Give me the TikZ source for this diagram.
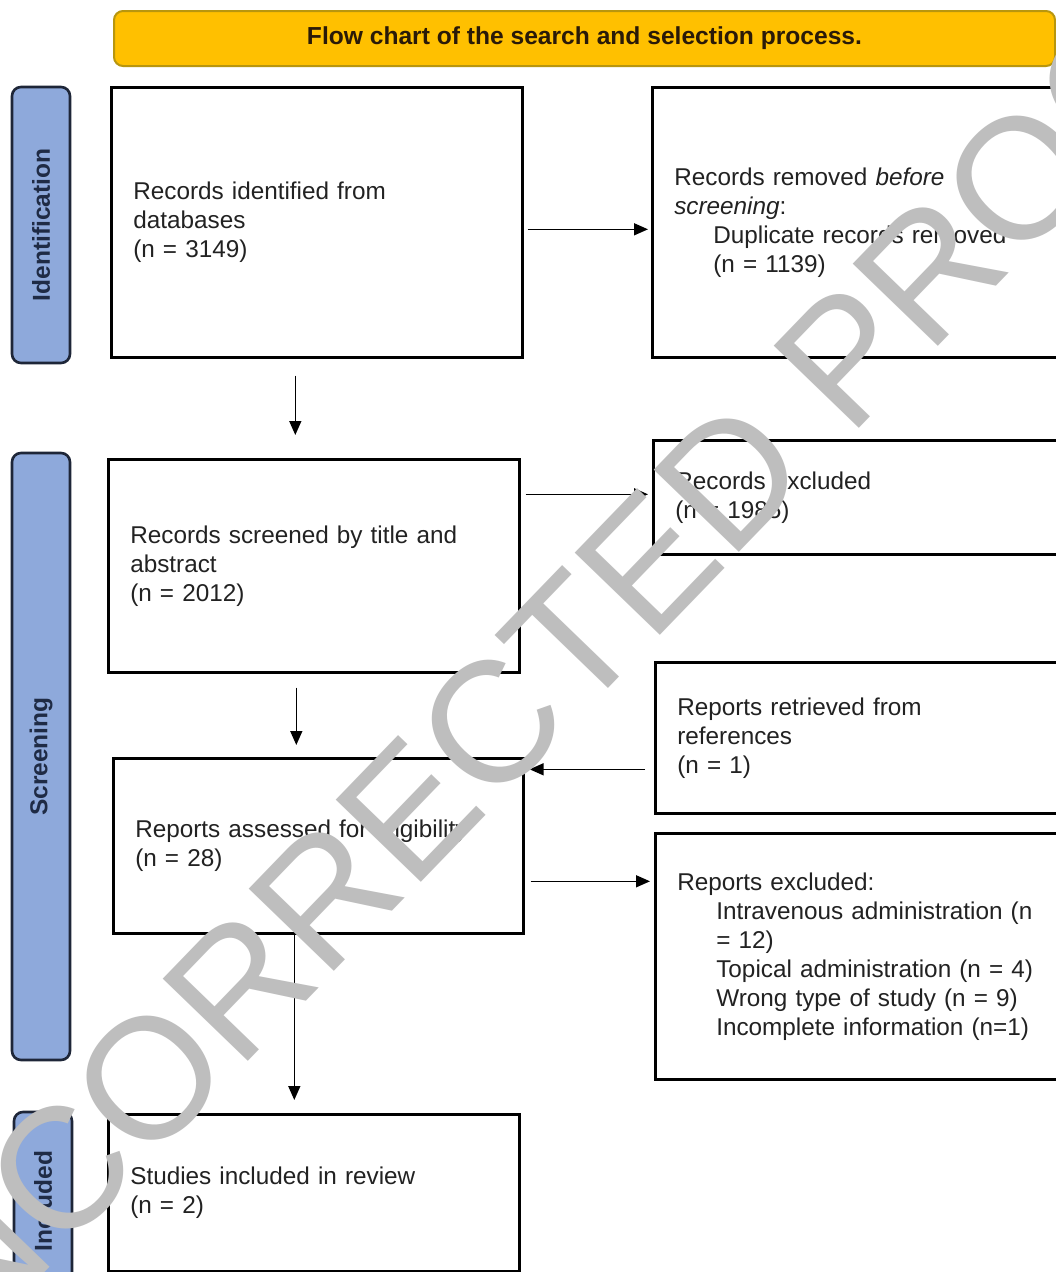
\documentclass[tikz,border=0pt]{standalone}
\usepackage{fontspec}
\setmainfont{Liberation Sans}
\newfontfamily\wmfont{Liberation Sans}
\usetikzlibrary{arrows.meta,calc}
\definecolor{banner}{HTML}{FFC000}
\definecolor{bannerline}{HTML}{B8960E}
\definecolor{sidefill}{HTML}{8EA9DB}
\definecolor{sideline}{HTML}{1E2638}
\definecolor{sidetext}{HTML}{1F2B45}
\definecolor{wmgray}{HTML}{BEBEBE}
\definecolor{txt}{HTML}{222222}
\definecolor{titletxt}{HTML}{2A1A08}
\begin{document}
\begin{tikzpicture}[x=1pt,y=-1pt,
 flowbox/.style={draw=black,line width=2.6pt,fill=white,anchor=north west,inner xsep=22pt,inner ysep=4pt,align=left,font=\fontsize{24.3}{29}\selectfont,text=txt},
 sidebox/.style={draw=sideline,line width=2.6pt,fill=sidefill,rounded corners=9pt,rotate=90,font=\bfseries\fontsize{24.5}{28}\selectfont,text=sidetext,inner sep=0pt},
 flowarr/.style={line width=1.5pt,-{Triangle[length=14pt,width=12pt]}},
 wmark/.style={text=wmgray,font=\wmfont\fontsize{172}{190}\selectfont,rotate=46,inner sep=0pt}]

\useasboundingbox (0,0) rectangle (1056,1272);
\fill[white] (0,0) rectangle (1056,1272);
\clip (0,0) rectangle (1056,1272);

% title banner
\node[draw=bannerline,fill=banner,line width=2pt,rounded corners=9pt,minimum width=941pt,minimum height=55pt,anchor=north west,font=\bfseries\fontsize{24.6}{28}\selectfont,text=titletxt] (title) at (113,10) {Flow chart of the search and selection process.};

% side labels
\node[sidebox,minimum width=276pt,minimum height=58pt] (sid) at (41,225) {Identification};
\node[sidebox,minimum width=607pt,minimum height=58pt] (sscr) at (41,756.5) {Screening};
\node[sidebox,minimum width=178pt,minimum height=58pt] (sinc) at (43,1201) {Included};

% boxes
\node[flowbox,text width=367pt,minimum height=270pt] (A) at (110,86) {Records identified from\\databases\\(n = 3149)};
\node[flowbox,text width=380pt,minimum height=270pt] (B) at (651,86) {Records removed \textit{before}\\\textit{screening}:\\\hspace*{39pt}Duplicate records removed\\\hspace*{39pt}(n = 1139)};
\node[flowbox,text width=367pt,minimum height=213pt] (C) at (107,458) {Records screened by title and\\abstract\\(n = 2012)};
\node[flowbox,text width=379pt,minimum height=114pt] (D) at (652,439) {Records excluded\\(n = 1985)};
\node[flowbox,text width=366pt,minimum height=175pt] (E) at (112,757) {Reports assessed for eligibility\\(n = 28)};
\node[flowbox,text width=377pt,minimum height=151pt] (F) at (654,661) {Reports retrieved from\\references\\(n = 1)};
\node[flowbox,text width=377pt,minimum height=246pt] (G) at (654,832) {Reports excluded:\\\hspace*{39pt}Intravenous administration (n\\\hspace*{39pt}= 12)\\\hspace*{39pt}Topical administration (n = 4)\\\hspace*{39pt}Wrong type of study (n = 9)\\\hspace*{39pt}Incomplete information (n=1)};
\node[flowbox,text width=367pt,minimum height=157pt] (H) at (107,1113) {Studies included in review\\(n = 2)};

% connectors
\draw[flowarr] ($(A.east)+(4,7)$) -- ($(B.west)+(-3,7)$);
\draw[flowarr] ($(A.south)+(-21.5,17)$) -- ($(C.north)+(-18.5,-23)$);
\draw[flowarr] ($(C.east)+(5,-71.5)$) -- ($(D.west)+(-4,-3)$);
\draw[flowarr] ($(C.south)+(-17.5,14)$) -- ($(E.north)+(-22,-12)$);
\draw[flowarr] ($(F.west)+(-9,31.5)$) -- ($(E.east)+(5,-76.5)$);
\draw[flowarr] ($(E.east)+(6,35.5)$) -- ($(G.west)+(-4,-75)$);
\draw[flowarr] ($(E.south)+(-24,0)$) -- ($(H.north)+(-19.5,-13)$);

% watermark
\node[wmark] (wm) at (538,676) {UNCORRECTED PROOF};
\end{tikzpicture}
\end{document}
